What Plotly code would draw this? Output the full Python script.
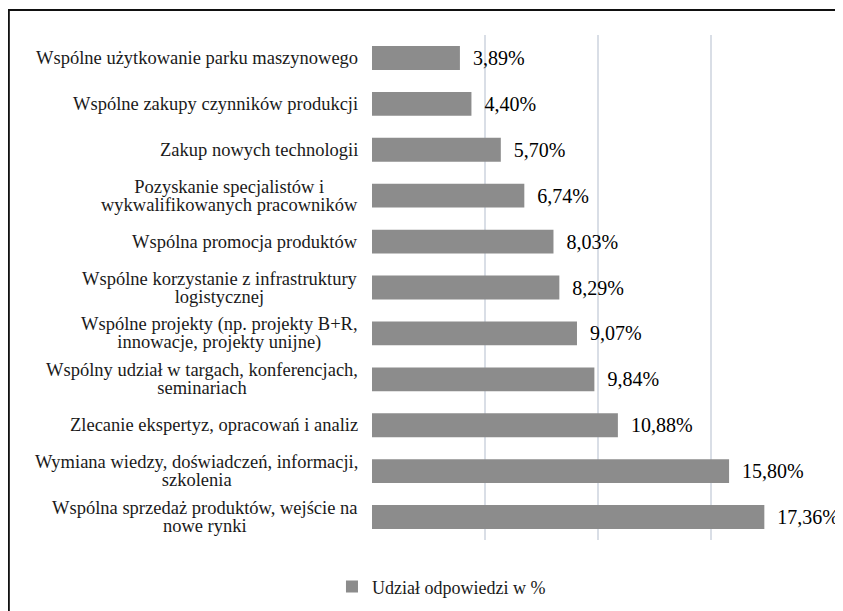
import plotly.graph_objects as go

categories = [
    "Wspólne użytkowanie parku maszynowego",
    "Wspólne zakupy czynników produkcji",
    "Zakup nowych technologii",
    "Pozyskanie specjalistów i<br>wykwalifikowanych pracowników",
    "Wspólna promocja produktów",
    "Wspólne korzystanie z infrastruktury<br>logistycznej",
    "Wspólne projekty (np. projekty B+R,<br>innowacje, projekty unijne)",
    "Wspólny udział w targach, konferencjach,<br>seminariach",
    "Zlecanie ekspertyz, opracowań i analiz",
    "Wymiana wiedzy, doświadczeń, informacji,<br>szkolenia",
    "Wspólna sprzedaż produktów, wejście na<br>nowe rynki",
]
values = [3.89, 4.40, 5.70, 6.74, 8.03, 8.29, 9.07, 9.84, 10.88, 15.80, 17.36]
series_name = "Udział odpowiedzi w %"
x_ticks = [0, 5, 10, 15, 20]

FONT = "Liberation Serif"
BAR = "#8c8c8c"

fig = go.Figure()
fig.add_trace(go.Bar(
    y=categories, x=values, orientation="h", name=series_name,
    marker=dict(color=BAR, line=dict(width=0)),
    texttemplate="\u00a0\u00a0%{x:.2f}%", textposition="outside",
    textfont=dict(family=FONT, size=20, color="#000000"),
    cliponaxis=False, showlegend=True,
))

for cat in categories:
    fig.add_annotation(
        x=0, xref="paper", y=cat, yref="y",
        xanchor="right", yanchor="middle", xshift=-12,
        align="center", showarrow=False,
        text='<span style="font-size:18.5px">' + cat.replace("<br>", '</span><br><span style="font-size:18.5px">') + "</span>",
        font=dict(family=FONT, size=14, color="#1a1a1a"),
    )

fig.add_shape(type="rect", xref="paper", yref="paper",
              x0=-0.8035, x1=1.3, y0=-0.4, y1=1.0495,
              line=dict(color="#111111", width=2), fillcolor="rgba(0,0,0,0)", layer="below")

fig.update_layout(
    width=835, height=603,
    margin=dict(l=364, r=19, t=27, b=71),
    paper_bgcolor="white", plot_bgcolor="white",
    separators=", ",
    bargap=0.48,
    font=dict(family=FONT, size=18, color="#1a1a1a"),
    xaxis=dict(range=[0, 20], tickvals=x_ticks, showticklabels=False,
               showgrid=True, gridcolor="#d9dee6", gridwidth=1.5,
               zeroline=False, showline=False, ticks=""),
    yaxis=dict(autorange="reversed", showticklabels=False, ticks="",
               showgrid=False, zeroline=False, showline=False),
    legend=dict(orientation="h", xref="container", yref="container",
                x=0.388, y=0.040, xanchor="left", yanchor="middle",
                font=dict(family=FONT, size=18, color="#1a1a1a"),
                itemwidth=30, bgcolor="rgba(0,0,0,0)"),
    showlegend=True,
)

fig.write_html("out.html")
